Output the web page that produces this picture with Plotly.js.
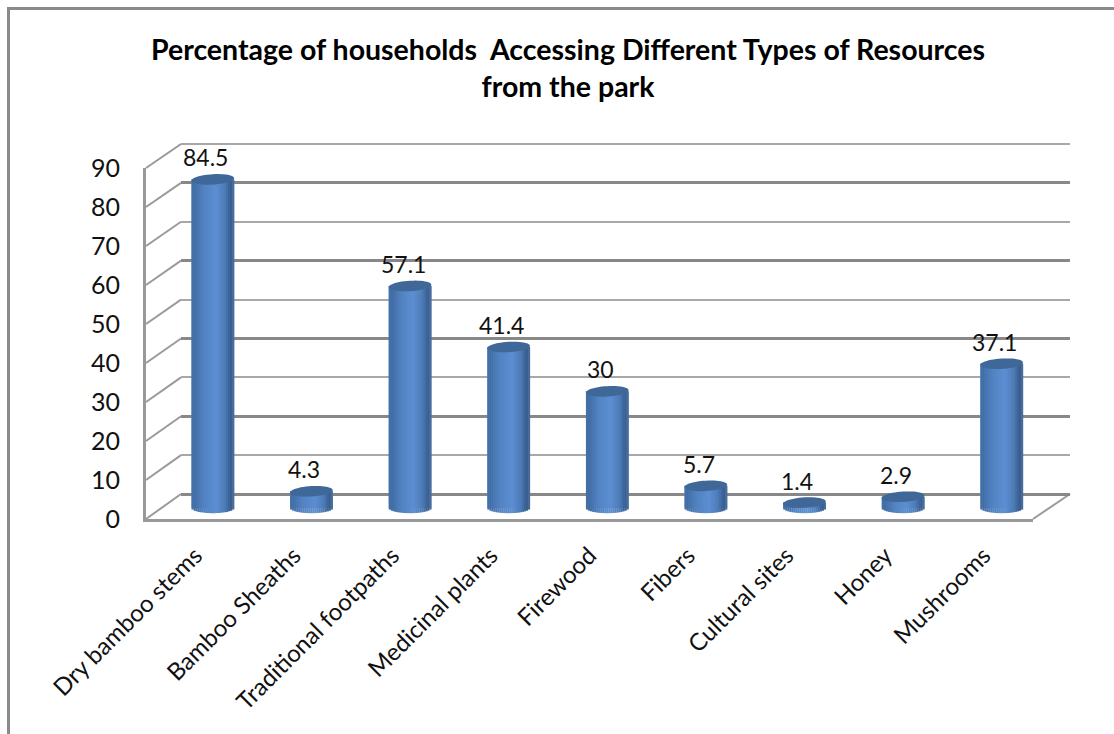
<!DOCTYPE html>
<html>
<head>
<meta charset="utf-8">
<script src="https://cdn.plot.ly/plotly-3.0.1.min.js"></script>
<style>html,body{margin:0;padding:0;background:#fff;overflow:hidden}#chart{width:1114px;height:734px}</style>
</head>
<body>
<div id="chart"></div>
<script>
// Household access to park resources, drawn as shaded cylinders in a faux-3D box.
const categories = ["Dry bamboo stems", "Bamboo Sheaths", "Traditional footpaths", "Medicinal plants",
  "Firewood", "Fibers", "Cultural sites", "Honey", "Mushrooms"];
const values = [84.5, 4.3, 57.1, 41.4, 30, 5.7, 1.4, 2.9, 37.1];
const valueTicks = [0, 10, 20, 30, 40, 50, 60, 70, 80, 90];

const W = 1114, H = 734;
const FONT = "Lato, 'Noto Sans', sans-serif";
const px = x => x / W;
const py = y => 1 - y / H;

// Box geometry in pixels: back wall, front plane and the mid plane that carries the cylinders.
const back = {l: 181, r: 1070, y0: 494, y90: 144};
const front = {l: 146, r: 1033, y0: 519, y90: 168};
const mid = {l: 163.5, r: 1051, y0: 508, y90: 158};
const unit = (mid.y0 - mid.y90) / 90;
const midBottom = 530;
const midFloor = -(midBottom - mid.y0) / unit;

// Wall axis runs a little past 0 and 90 so the end gridlines are kept.
const wallPad = 2;
const wallUnit = (back.y0 - back.y90) / 90;
const wallDomain = [py(back.y0 + wallPad * wallUnit), py(back.y90 - wallPad * wallUnit)];
const wallRange = [-wallPad, 90 + wallPad];

const barWidth = 0.432;
const capRy = 5.2 / unit;
const capTilt = 1.2 / unit;
const footRy = 5.2 / unit;

// Horizontal shading across a cylinder, position 0..1 to colour.
const shadeStops = [
  [0.00, [68, 112, 168]], [0.08, [66, 110, 166]], [0.30, [82, 131, 194]],
  [0.58, [92, 142, 210]], [0.78, [78, 124, 184]], [0.92, [54, 92, 142]], [1.00, [80, 114, 158]]
];
function shade(t) {
  for (let i = 1; i < shadeStops.length; i++) {
    const [a, ca] = shadeStops[i - 1], [b, cb] = shadeStops[i];
    if (t <= b) {
      const f = (t - a) / (b - a);
      const c = ca.map((v, k) => Math.round(v + (cb[k] - v) * f));
      return `rgb(${c.join(",")})`;
    }
  }
  return "rgb(80,114,158)";
}

const traces = [];

// Invisible traces so each axis pair gets drawn.
const ghost = (xa, ya) => ({
  type: "scatter", mode: "markers", x: categories, y: values, xaxis: xa, yaxis: ya,
  marker: {opacity: 0, size: 1}, hoverinfo: "skip", showlegend: false
});
traces.push(ghost("x", "y"), ghost("x2", "y2"), ghost("x3", "y3"));

// Base column carrying the values.
traces.push({
  type: "bar", x: categories, y: values, xaxis: "x4", yaxis: "y4", width: barWidth,
  marker: {color: shade(0.5), line: {width: 0}}, showlegend: false,
  hovertemplate: "%{x}: %{y}<extra></extra>"
});

// Narrow strips side by side give the round shading and a curved foot.
const STRIPS = 21;
for (let s = 0; s < STRIPS; s++) {
  const t0 = s / STRIPS, t = (s + 0.5) / STRIPS;
  const u = 2 * t - 1;
  const foot = -footRy * Math.sqrt(1 - u * u);
  traces.push({
    type: "bar", x: categories, y: values.map(v => v - foot), base: foot,
    xaxis: "x4", yaxis: "y4",
    width: barWidth / STRIPS * 1.1, offset: -barWidth / 2 + t0 * barWidth,
    marker: {color: shade(t), line: {width: 0}},
    hoverinfo: "skip", showlegend: false
  });
}

const shapes = [];

// Chart-area frame: only the top and left edges fall inside the page.
const frame = {type: "line", xref: "paper", yref: "paper", line: {color: "#8a8a8a", width: 3}, layer: "below"};
shapes.push(Object.assign({}, frame, {x0: px(8.5), x1: px(8.5), y0: py(8), y1: py(H)}));
shapes.push(Object.assign({}, frame, {x0: px(7), x1: px(W), y0: py(8.5), y1: py(8.5)}));

// Side-wall slants joining the front axis to the back wall at each tick, and the floor's right edge.
const slant = {type: "line", xref: "paper", yref: "paper", line: {color: "#9a9a9a", width: 2}, layer: "below"};
valueTicks.forEach(v => {
  const yf = front.y0 + (front.y90 - front.y0) * v / 90;
  const yb = back.y0 + (back.y90 - back.y0) * v / 90;
  shapes.push(Object.assign({}, slant, {x0: px(front.l), x1: px(back.l), y0: py(yf), y1: py(yb)}));
});
shapes.push(Object.assign({}, slant, {x0: px(front.r), x1: px(back.r), y0: py(front.y0), y1: py(back.y0)}));

// Elliptical cap on each cylinder, slightly tilted.
values.forEach((v, i) => {
  let d = "";
  for (let k = 0; k < 48; k++) {
    const a = 2 * Math.PI * k / 48;
    const x = i + barWidth / 2 * Math.cos(a);
    const y = v + capRy * Math.sin(a) + capTilt * Math.cos(a);
    d += (k ? "L" : "M") + x.toFixed(4) + "," + y.toFixed(4);
  }
  shapes.push({type: "path", xref: "x4", yref: "y4", path: d + "Z", fillcolor: "#3f6798", line: {width: 0}, layer: "above"});
});

// Value labels sit above the caps, nudged toward the left as the perspective does.
const annotations = values.map((v, i) => ({
  x: categories[i], y: v, xref: "x4", yref: "y4", text: String(v), showarrow: false,
  xshift: -7, yshift: 22, yanchor: "middle", font: {family: FONT, size: 23, color: "#111"}
}));

const hiddenAxis = {showgrid: false, zeroline: false, showline: false, showticklabels: false, ticks: ""};

const layout = {
  width: W, height: H, margin: {l: 0, r: 0, t: 0, b: 0},
  paper_bgcolor: "#fff", plot_bgcolor: "rgba(0,0,0,0)", showlegend: false, barmode: "overlay",
  title: {
    text: "Percentage of households\u00a0 Accessing Different Types of Resources<br>from the park",
    x: 568 / W, xanchor: "center", y: 1 - 60 / H, yanchor: "middle",
    font: {family: FONT, size: 28.5, color: "#000", weight: 700}
  },
  // Back wall, light and heavier gridlines alternating.
  xaxis: Object.assign({}, hiddenAxis, {domain: [px(back.l), px(back.r)], anchor: "y", type: "category", categoryarray: categories, categoryorder: "array", range: [-0.5, 8.5]}),
  yaxis: {domain: wallDomain, anchor: "x", range: wallRange, tickvals: valueTicks, showticklabels: false, ticks: "", showgrid: true, gridcolor: "#a8a8a8", gridwidth: 2, zeroline: false, showline: false},
  xaxis2: Object.assign({}, hiddenAxis, {domain: [px(back.l), px(back.r)], anchor: "y2", type: "category", categoryarray: categories, categoryorder: "array", range: [-0.5, 8.5]}),
  yaxis2: {domain: wallDomain, anchor: "x2", range: wallRange, tickvals: valueTicks.filter(v => v % 20 === 0), showticklabels: false, ticks: "", showgrid: true, gridcolor: "#888888", gridwidth: 3, zeroline: false, showline: false},
  // Front plane: the labelled axes.
  xaxis3: {domain: [px(front.l), px(front.r)], anchor: "y3", type: "category", categoryarray: categories, categoryorder: "array", range: [-0.5, 8.5],
    showgrid: false, zeroline: false, showline: true, linecolor: "#999", linewidth: 3, ticks: "outside", ticklen: 10, tickcolor: "rgba(0,0,0,0)",
    tickangle: -45, tickfont: {family: FONT, size: 24, color: "#111"}},
  yaxis3: {domain: [py(front.y0), py(front.y90)], anchor: "x3", range: [0, 90], tickvals: valueTicks, showgrid: false, zeroline: false, showline: true, linecolor: "#999", linewidth: 3,
    ticks: "outside", ticklen: 18, tickcolor: "rgba(0,0,0,0)", tickfont: {family: FONT, size: 25, color: "#111"}},
  // Mid plane holding the cylinders; the range runs below zero to leave room for the curved foot.
  xaxis4: Object.assign({}, hiddenAxis, {domain: [px(mid.l), px(mid.r)], anchor: "y4", type: "category", categoryarray: categories, categoryorder: "array", range: [-0.5, 8.5]}),
  yaxis4: Object.assign({}, hiddenAxis, {domain: [py(midBottom), py(mid.y90)], anchor: "x4", range: [midFloor, 90]}),
  shapes, annotations
};

Plotly.newPlot("chart", traces, layout, {displayModeBar: false, responsive: false});
</script>
</body>
</html>
